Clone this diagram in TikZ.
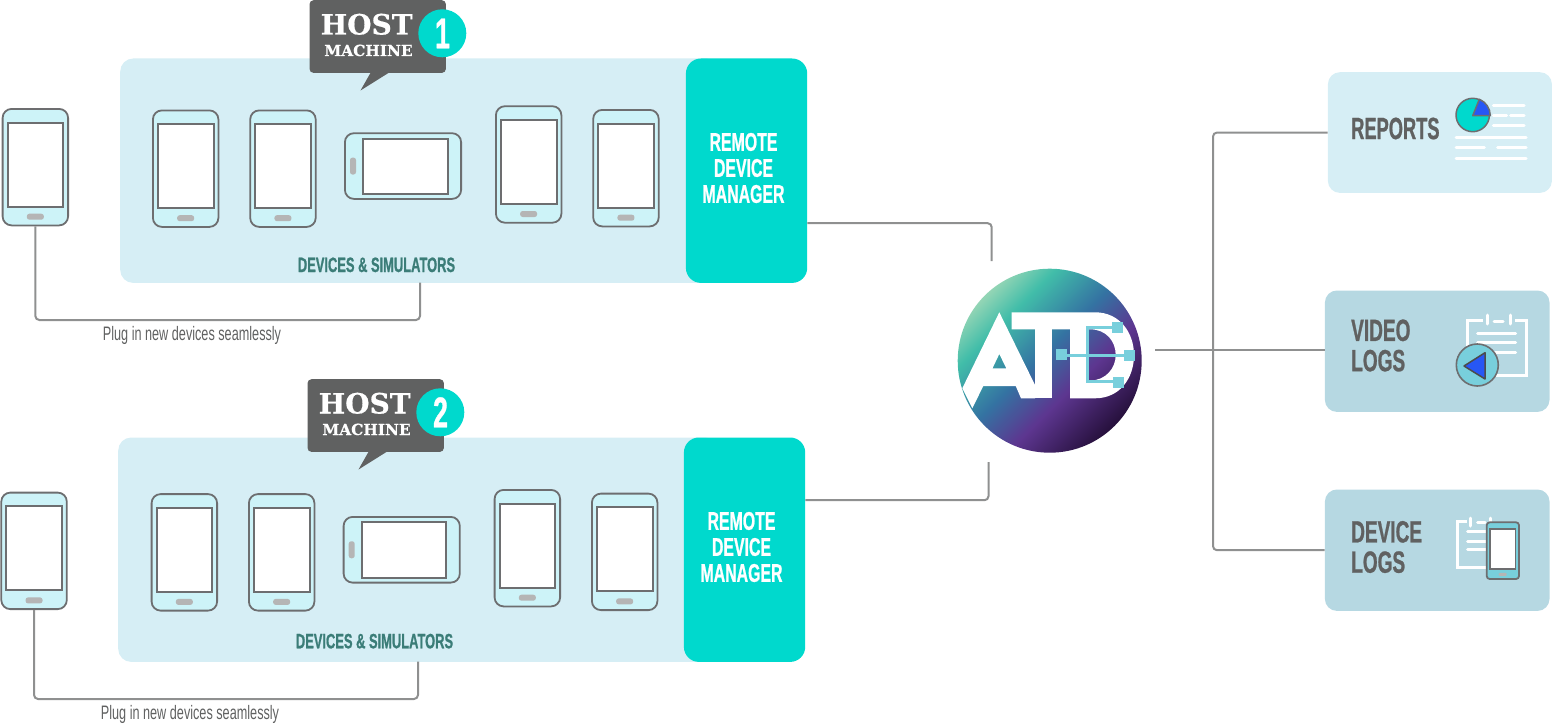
\documentclass[tikz,border=0pt]{standalone}
\usepackage{fontspec}
\usepackage{xcolor}
\usepackage{tikz}
\setmainfont{Liberation Sans}
\newfontfamily\condfont[FakeStretch=0.62,FakeBold=0.8]{Liberation Sans}
\newfontfamily\thinfont[FakeStretch=0.65]{Liberation Sans}
\newfontfamily\slabfont[FakeBold=0.6]{DejaVu Serif}

\definecolor{panelblue}{HTML}{D6EEF5}
\definecolor{logblue}{HTML}{B6D8E2}
\definecolor{rdmteal}{HTML}{00D9CD}
\definecolor{bubblegray}{HTML}{606161}
\definecolor{wiregray}{HTML}{8F9090}
\definecolor{edgegray}{HTML}{6D6E70}
\definecolor{devfill}{HTML}{CDF3F8}
\definecolor{btngray}{HTML}{B5B5B5}
\definecolor{simgreen}{HTML}{3B7D78}
\definecolor{iconcyan}{HTML}{78CFDC}
\definecolor{iconblue}{HTML}{2757F5}
\definecolor{gradA}{HTML}{93D5B5}
\definecolor{gradB}{HTML}{41BDA9}
\definecolor{gradC}{HTML}{3472A2}
\definecolor{gradD}{HTML}{5D3690}
\definecolor{gradE}{HTML}{26103C}

\pgfdeclarehorizontalshading{atdglow}{100bp}{color(0bp)=(gradA);color(25bp)=(gradA);color(33.5bp)=(gradB);color(47.5bp)=(gradC);color(59.5bp)=(gradD);color(75bp)=(gradE);color(100bp)=(gradE)}

\tikzset{
  devbody/.style={draw=edgegray,line width=1.8pt,fill=devfill,rounded corners=9pt,inner sep=0pt,anchor=north west},
  devscreen/.style={draw=edgegray,line width=2pt,fill=white,inner sep=0pt,anchor=north west},
  devbutton/.style={fill=btngray,rounded corners=2.5pt,inner sep=0pt},
  panelbox/.style={fill=panelblue,rounded corners=13pt,inner sep=0pt,anchor=north west},
  rdmbox/.style={fill=rdmteal,rounded corners=15pt,inner sep=0pt,anchor=north west,minimum width=121.3pt,minimum height=224.4pt},
  rdmtext/.style={text=white,align=center,inner sep=0pt,font=\condfont\bfseries\fontsize{25.6}{26}\selectfont},
  simtext/.style={text=simgreen,inner sep=0pt,anchor=base,font=\condfont\bfseries\fontsize{20.8}{20}\selectfont},
  plugtext/.style={text=bubblegray,inner sep=0pt,anchor=base,font=\thinfont\fontsize{19.5}{20}\selectfont},
  logtext/.style={text=bubblegray,inner sep=0pt,align=left,anchor=west,font=\condfont\bfseries\fontsize{30.7}{30.3}\selectfont},
  bubblebox/.style={fill=bubblegray,rounded corners=4pt,inner sep=0pt,anchor=north west,minimum width=136.4pt,minimum height=72.7pt},
  badge/.style={circle,fill=rdmteal,inner sep=0pt,minimum size=48pt},
  hosttext/.style={text=white,inner sep=0pt,anchor=base,font=\slabfont\bfseries\fontsize{28}{28}\selectfont},
  machinetext/.style={text=white,inner sep=0pt,anchor=base,font=\slabfont\bfseries\fontsize{15.3}{16}\selectfont},
  badgetext/.style={text=white,inner sep=0pt,anchor=base,font=\condfont\bfseries\fontsize{43}{43}\selectfont},
  wire/.style={draw=wiregray,line width=2pt,rounded corners=4pt},
  whitebar/.style={draw=white,line width=3pt,line cap=round},
  iconline/.style={draw=white,line width=3pt},
  cyanline/.style={draw=iconcyan,line width=3pt},
  cyanpad/.style={fill=iconcyan,inner sep=0pt,minimum size=11pt},
}

% portrait device: name, left, top
\newcommand{\handset}[3]{
  \node[devbody,minimum width=65.5pt,minimum height=116.5pt] (#1) at (#2,#3) {};
  \node[devscreen,minimum width=55.5pt,minimum height=83.8pt] (#1scr) at ([xshift=5pt,yshift=-13.7pt]#1.north west) {};
  \node[devbutton,minimum width=17pt,minimum height=6pt] (#1btn) at ([yshift=-108.7pt]#1.north) {};
}
% landscape device: name, left, top
\newcommand{\widehandset}[3]{
  \node[devbody,minimum width=116.2pt,minimum height=65.7pt] (#1) at (#2,#3) {};
  \node[devscreen,minimum width=84.2pt,minimum height=55.2pt] (#1scr) at ([xshift=18.3pt,yshift=-5.4pt]#1.north west) {};
  \node[devbutton,minimum width=6pt,minimum height=17pt] (#1btn) at ([xshift=9pt]#1.west) {};
}

\begin{document}
\begin{tikzpicture}[x=1pt,y=-1pt]
  \useasboundingbox (0,0) rectangle (1552,725);

  % Host machines
  \foreach \row/\dx/\dy/\pdx/\pdy/\tdy in {1/0/0/0/0/0,2/-2/379/-1.3/383.7/-2.7}{
    \begin{scope}[shift={(\dx,\dy)}]
      \node[panelbox,minimum width=600pt,minimum height=224.4pt] (panel\row) at (120,58.3) {};
      \node[rdmbox] (rdm\row) at (685.7,58.3) {};
      \node[rdmtext] (rdmlabel\row) at (743.5,168) {REMOTE\\DEVICE\\MANAGER};
      \node[simtext] (simlabel\row) at (376.5,272+\tdy) {DEVICES \& SIMULATORS};
      \node[plugtext] (pluglabel\row) at (192,340.7) {Plug in new devices seamlessly};
      \coordinate (plugend\row) at (420,282.7);

      % Speech bubble
      \node[bubblebox] (bubble\row) at (309.3,0) {};
      \fill[bubblegray] (390,72) -- (360.5,90.5) -- (371,72) -- cycle;
      \node[badge] (badge\row) at (442.3,33.3) {};
      \node[hosttext] (host\row) at (366.7,34.5) {HOST};
      \node[machinetext] (machine\row) at (368.5,56) {MACHINE};
      \node[badgetext] (digit\row) at (442.5,48.3) {\row};
    \end{scope}

    % Devices
    \begin{scope}[shift={(\pdx,\pdy)}]
      \handset{loose\row}{1.7}{108}
      \handset{deva\row}{152}{109.5}
      \handset{devb\row}{249.3}{109.5}
      \widehandset{devc\row}{344}{132.3}
      \handset{devd\row}{495}{105.3}
      \handset{deve\row}{592.3}{109}
    \end{scope}

    % Connectors
    \draw[wire] (loose\row.south) |- ([yshift=-37.3pt]plugend\row) -- (plugend\row);
  }
  \coordinate (logoN) at (991.7,261);
  \coordinate (logoS) at (988.5,462);
  \draw[wire] ([yshift=-52.5pt]rdm1.east) -| (logoN);
  \draw[wire] ([yshift=49.5pt]rdm2.east) -| (logoS);

  % Logo
  \path[shade,shading=atdglow,shading angle=-45] (1049.7,360.7) circle[radius=92pt];
  \fill[white,even odd rule]
    (999.3,312.3) -- (1035,385) -- (1035,398.3) -- (1021,398.3) -- (1015.7,386) -- (983.3,386)
      -- (972.3,408.3) -- (962.3,388.3) -- cycle
    (999.3,354) -- (992.5,368.3) -- (1006.3,368.3) -- cycle;
  \fill[white,even odd rule]
    (1011.7,312.3) -- (1095,312.3) .. controls (1120,312.3) and (1134,333) .. (1134,355)
      .. controls (1134,378) and (1120,398.3) .. (1095,398.3) -- (1070,398.3) -- (1070,329.3) -- (1011.7,329.3) -- cycle
    (1088,329.3) -- (1090,329.3) .. controls (1106,329.3) and (1115.7,341) .. (1115.7,355)
      .. controls (1115.7,368) and (1106,380.5) .. (1090,380.5) -- (1088,380.5) -- cycle;
  \fill[white] (1035,329) rectangle (1052,398.3);
  \draw[cyanline] (1118,327) -- (1087.5,327) -- (1087.5,381.7) -- (1118,381.7);
  \draw[cyanline] (1061,355) -- (1129,355);
  \node[cyanpad] (padL) at (1061.7,354.7) {};
  \node[cyanpad] (padR) at (1129.2,355.5) {};
  \node[cyanpad] (padT) at (1117.8,327.8) {};
  \node[cyanpad] (padB) at (1118.7,382.2) {};

  % Output boxes
  \node[panelbox,rounded corners=12pt,minimum width=224pt,minimum height=120.7pt] (reports) at (1327.7,72) {};
  \node[panelbox,fill=logblue,rounded corners=12pt,minimum width=224.6pt,minimum height=121.4pt] (video) at (1324.7,290.3) {};
  \node[panelbox,fill=logblue,rounded corners=12pt,minimum width=224.6pt,minimum height=121.4pt] (device) at (1324.7,489.3) {};
  \node[logtext,transform shape,xscale=0.96] (reportslabel) at (1351,128.5) {REPORTS};
  \node[logtext] (videolabel) at (1351,345.5) {VIDEO\\LOGS};
  \node[logtext] (devicelabel) at (1351,547) {DEVICE\\LOGS};

  \coordinate (logoE) at (1155,350.4);
  \coordinate (trunk) at (1213,350.4);
  \draw[wire] (logoE) -- (logoE -| video.west);
  \draw[wire] (reports.west) -| (trunk) |- (device.west);

  % Reports icon
  \draw[draw=edgegray,line width=1.5pt,fill=rdmteal] (1472.7,115) circle[radius=16.7pt];
  \draw[draw=edgegray,line width=1.5pt,fill=iconblue,line join=round] (1472.7,115.7) -- (1479.3,99.3) arc[start angle=68,end angle=0,radius=17.5pt] -- cycle;
  \draw[whitebar] (1493.3,105) -- (1524,105);
  \draw[whitebar] (1493.3,115) -- (1506.7,115);
  \draw[whitebar] (1510.7,115) -- (1524,115);
  \draw[whitebar] (1493.3,125.3) -- (1524,125.3);
  \draw[whitebar] (1456,137.7) -- (1526,137.7);
  \draw[whitebar] (1456,147.7) -- (1484.3,147.7);
  \draw[whitebar] (1497.7,147.7) -- (1526,147.7);
  \draw[whitebar] (1456,158) -- (1526,158);

  % Video icon
  \draw[iconline] (1483,320) -- (1467,320) -- (1467,375) -- (1526.7,375) -- (1526.7,320) -- (1515,320);
  \draw[whitebar] (1487.3,315) -- (1487.3,324);
  \draw[whitebar] (1510,315) -- (1510,324);
  \draw[whitebar] (1494,321.7) -- (1503,321.7);
  \draw[whitebar] (1477.5,333.3) -- (1515.5,333.3);
  \draw[whitebar] (1477.5,342.7) -- (1515.5,342.7);
  \draw[whitebar] (1477.5,352.3) -- (1515.5,352.3);
  \draw[draw=edgegray,line width=1.6pt,fill=iconcyan] (1477.3,365) circle[radius=21pt];
  \draw[draw=black!70,line width=1.5pt,fill=iconblue,line join=round] (1464,366) -- (1485,352.7) -- (1485,379) -- cycle;

  % Device log icon
  \draw[iconline] (1466.7,521.7) -- (1457.3,521.7) -- (1457.3,567.3) -- (1488,567.3);
  \draw[whitebar] (1470.7,518) -- (1470.7,526);
  \draw[whitebar] (1490,518) -- (1490,524);
  \draw[whitebar] (1477.5,522.7) -- (1485,522.7);
  \draw[whitebar] (1467.5,531.7) -- (1487,531.7);
  \draw[whitebar] (1467.5,541) -- (1487,541);
  \draw[whitebar] (1467.5,549) -- (1487,549);
  \draw[draw=edgegray,line width=1.8pt,fill=iconcyan,rounded corners=3pt] (1486.7,522.3) rectangle (1519,579);
  \draw[draw=edgegray,line width=1.5pt,fill=white] (1490,529) rectangle (1515.7,569);
  \fill[btngray,rounded corners=1pt] (1498.7,572.8) rectangle (1506.7,575.8);
\end{tikzpicture}
\end{document}
